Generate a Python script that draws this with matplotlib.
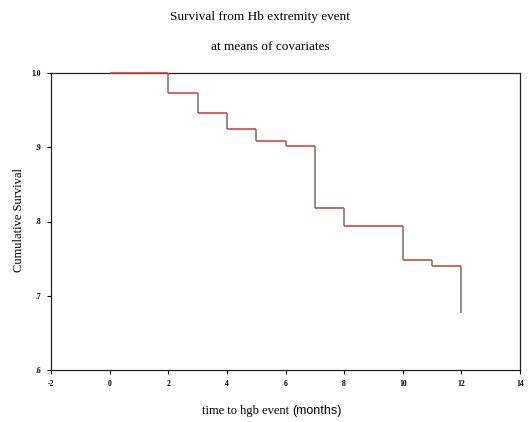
import matplotlib
matplotlib.use("Agg")
import matplotlib.pyplot as plt

# Data
event_times = [0, 2, 3, 4, 5, 6, 7, 8, 10, 11, 12]
survival = [1.0, 0.973, 0.946, 0.924, 0.909, 0.902, 0.818, 0.794, 0.748, 0.740, 0.677]
x_ticks = [-2, 0, 2, 4, 6, 8, 10, 12, 14]
y_ticks = [0.6, 0.7, 0.8, 0.9, 1.0]
y_tick_labels = [".6", ".7", ".8", ".9", "1.0"]

title1 = "Survival from Hb extremity event"
title2 = "at means of covariates"
ylabel = "Cumulative Survival"
xlabel_a = "time to hgb event"
xlabel_b = "(months)"

fig = plt.figure(figsize=(5.28, 4.22), dpi=100)
ax = fig.add_axes([51/528, 1-370/422, (520-51)/528, (370-73)/422])

red = "#cc3a3a"
gray = "#707070"
# horizontal segments (red) and vertical drops (gray)
for i in range(len(event_times) - 1):
    ax.plot([event_times[i], event_times[i+1]], [survival[i], survival[i]], color=red, lw=1.1,
            solid_capstyle="butt", zorder=4, clip_on=False)
    ax.plot([event_times[i+1], event_times[i+1]], [survival[i], survival[i+1]], color=gray, lw=1.1,
            solid_capstyle="butt", zorder=3, clip_on=False)

ax.set_xlim(-2, 14)
ax.set_ylim(0.6, 1.0)
ax.set_xticks(x_ticks)
ax.set_xticklabels([str(t) for t in x_ticks])
ax.set_yticks(y_ticks)
ax.set_yticklabels(y_tick_labels)
for lab in ax.get_xticklabels() + ax.get_yticklabels():
    lab.set_family("Liberation Serif")
    lab.set_fontsize(5.5)
    lab.set_fontweight("bold")
ax.tick_params(axis="both", length=3, width=0.8, direction="out", pad=4)
for s in ax.spines.values():
    s.set_linewidth(0.9)
    s.set_color("#222222")
    s.set_zorder(2)

fig.text(260/528, 1-17/422, title1, ha="center", va="center", family="Liberation Serif", fontsize=9.5)
fig.text(270/528, 1-47/422, title2, ha="center", va="center", family="Liberation Serif", fontsize=9.5)
fig.text(19/528, 1-220/422, ylabel, ha="center", va="center", rotation=90, family="Liberation Serif", fontsize=9)
fig.text(292/528, 1-411/422, xlabel_a + " ", ha="right", va="center", family="Liberation Serif", fontsize=9)
fig.text(292/528, 1-411/422, xlabel_b, ha="left", va="center", family="Liberation Sans", fontsize=9)

fig.savefig("out.png", dpi=100)
